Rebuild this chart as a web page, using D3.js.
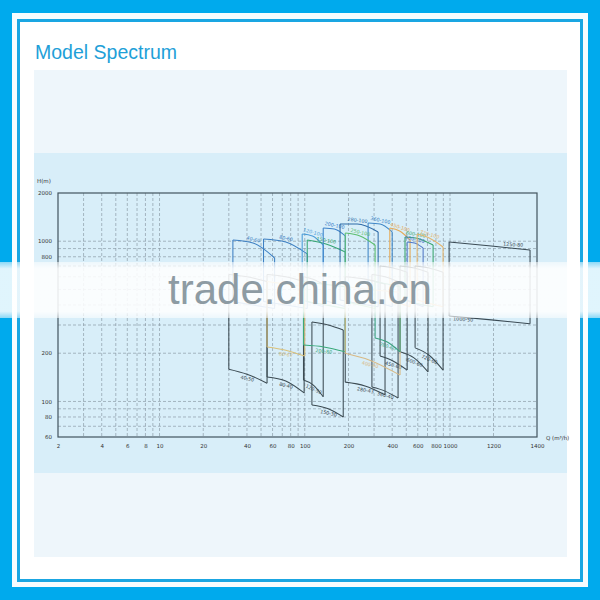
<!DOCTYPE html>
<html><head><meta charset="utf-8">
<script src="https://cdn.jsdelivr.net/npm/d3@7"></script>
<style>body{margin:0;background:#00aaed;}svg{display:block;}</style>
</head><body>
<svg id="c" width="600" height="600"></svg>
<script>
// ---------- data ----------
const xTicks = [2,4,6,8,10,20,40,60,80,100,200,400,600,800,1000,1200,1400];
const xGrid = [3,4,5,6,7,8,9,10,20,30,40,50,60,70,80,90,100,200,300,400,500,600,700,800,900,1000,1200];
const yTicks = [60,80,100,200,800,1000,2000];
const yGrid = [70,80,90,100,200,300,400,500,600,700,800,900,1000];

const tileNames = ["40-60","80-60","120-100","150-100","200-100","280-100","360-100","250-100","450-100","600-100","650-100","720-100",
  "40-50","80-40","120-50","150-30","280-43","360-40","450-60","600-60","720-60",
  "80-67","200-80","400-60","280-60","1250-80"];
const tileQ = [[32,44,62],[52,74,104],[96,113,134],[104,140,190],[134,160,190],[175,230,320],[273,330,400],[190,240,305],[385,450,531],[490,580,765],[507,570,653],[594,720,896],
  [30,40,55],[55,74,99],[98,114,134],[112,145,184],[190,260,357],[290,357,439],[330,405,507],[453,565,706],[575,715,896],
  [55,74,100],[98,135,190],[190,280,453],[305,370,453],[986,1190,1368]];
const tileTop = [[1019,976,786],[1033,990,833],[1110,1079,947],[1019,961,857],[1210,1193,1079],[1282,1282,1143],[1300,1282,1143],[1126,1079,947],[1210,1159,1019],[1063,1048,947],[990,976,908],[1110,1048,921],
  [620,600,560],[620,600,560],[600,580,540],[313,300,279],[600,580,540],[620,600,560],[700,680,640],[700,680,640],[700,680,640],
  [560,540,520],[560,540,520],[520,500,480],[560,540,520],[990,934,882]];
const tileBot = [[420,400,380],[420,400,380],[430,410,390],[420,400,380],[430,410,390],[430,410,390],[430,410,390],[420,400,380],[430,410,390],[430,410,390],[430,410,390],[430,410,390],
  [159,148,130],[142,134,113],[136,127,107],[95,90,80],[132,125,110],[123,116,105],[192,179,157],[204,187,153],[216,195,157],
  [219,209,192],[225,219,204],[200,181,146],[249,235,204],[341,323,305]];
const tileLabelSide = ["top","top","top","top","top","top","top","top","top","top","top","top",
  "bot","bot","bot","bot","bot","bot","bot","bot","bot",
  "bot","bot","bot","bot","top"];
const bigTileBottomLabel = "1000-50";

// ---------- styles ----------
const tileColors = ["#3d7fc2","#3d7fc2","#4a9bd8","#34a573","#3c80c8","#2d6aa8","#3f86c6","#5cbf6e","#e5a955","#39a46c","#5078c6","#e4b46c",
  "#3c4b53","#3c4b53","#3c4b53","#3c4b53","#3c4b53","#3c4b53","#3c4b53","#3c4b53","#3c4b53",
  "#d9c07a","#3aa97a","#d8b985","#3aa07e","#3a4a54"];

const svg = d3.select("#c");
// frame
svg.append("rect").attr("x",12).attr("y",13).attr("width",576).attr("height",574).attr("fill","#f7fcfe");
svg.append("rect").attr("x",18.5).attr("y",20.5).attr("width",563).attr("height",560).attr("fill","#ffffff").attr("stroke","#1aa6e2").attr("stroke-width",3);
svg.append("rect").attr("x",34).attr("y",70).attr("width",533).attr("height",487).attr("fill","#eef6fb");
svg.append("rect").attr("x",34).attr("y",153).attr("width",533).attr("height",320).attr("fill","#d8eef9");
svg.append("text").attr("x",35).attr("y",59).text("Model Spectrum")
  .attr("font-family","Liberation Sans, Arial, sans-serif").attr("font-size",19.5).attr("fill","#1ea0d8");

// scales
const xLog = d3.scaleLog().domain([2,1000]).range([58,450]);
const xLin = d3.scaleLinear().domain([1000,1400]).range([450,537]);
const x = q => q <= 1000 ? xLog(q) : xLin(q);
const y = d3.scaleLog().domain([60,2000]).range([437,193]);

const g = svg.append("g");
// grid
g.selectAll(".vg").data(xGrid).join("line")
  .attr("x1",d=>x(d)).attr("x2",d=>x(d)).attr("y1",193).attr("y2",437)
  .attr("stroke","#8c9ca8").attr("stroke-width",0.7).attr("stroke-dasharray","3,2");
g.selectAll(".hg").data(yGrid).join("line")
  .attr("x1",58).attr("x2",537).attr("y1",d=>y(d)).attr("y2",d=>y(d))
  .attr("stroke","#8c9ca8").attr("stroke-width",0.7).attr("stroke-dasharray","3,2");
// plot frame
g.append("rect").attr("x",58).attr("y",193).attr("width",479).attr("height",244)
  .attr("fill","none").attr("stroke","#42545e").attr("stroke-width",1.2);

// axes labels
const axFont = "DejaVu Sans, sans-serif";
const xa1 = d3.axisBottom(xLog).tickValues(xTicks.filter(d=>d<=1000)).tickSize(0).tickFormat(d3.format("d"));
const xa2 = d3.axisBottom(xLin).tickValues(xTicks.filter(d=>d>1000)).tickSize(0).tickFormat(d3.format("d"));
[xa1,xa2].forEach(a=>{
  const ag = g.append("g").attr("transform","translate(0,441)").call(a);
  ag.select(".domain").remove();
  ag.selectAll("text").attr("font-size",5.5).attr("font-family",axFont).attr("fill","#333");
});
const ya = d3.axisLeft(y).tickValues(yTicks).tickSize(0).tickFormat(d3.format("d"));
const yag = g.append("g").attr("transform","translate(55,0)").call(ya);
yag.select(".domain").remove();
yag.selectAll("text").attr("font-size",5.5).attr("font-family",axFont).attr("fill","#333");
g.append("text").attr("x",37).attr("y",183).text("H(m)").attr("font-size",5.5).attr("font-family",axFont).attr("fill","#333");
g.append("text").attr("x",546).attr("y",440).text("Q (m³/h)").attr("font-size",5.5).attr("font-family",axFont).attr("fill","#333");

// tiles
const curve = d3.line().x(d=>x(d[0])).y(d=>y(d[1])).curve(d3.curveMonotoneX);
const tiles = tileNames.map((n,i)=>({n, q:tileQ[i], t:tileTop[i], b:tileBot[i], side:tileLabelSide[i], c:tileColors[i]}));
const tg = g.append("g");
tiles.forEach(d=>{
  const top = d.q.map((q,k)=>[q,d.t[k]]);
  const bot = d.q.map((q,k)=>[q,d.b[k]]);
  const gg = tg.append("g").attr("stroke",d.c).attr("fill","none").attr("stroke-width",1.05);
  gg.append("path").attr("d",curve(top));
  gg.append("path").attr("d",curve(bot));
  gg.append("line").attr("x1",x(d.q[0])).attr("x2",x(d.q[0])).attr("y1",y(d.t[0])).attr("y2",y(d.b[0]));
  gg.append("line").attr("x1",x(d.q[2])).attr("x2",x(d.q[2])).attr("y1",y(d.t[2])).attr("y2",y(d.b[2]));
  const arr = d.side==="top" ? d.t : d.b;
  const x0=x(d.q[0]), x2=x(d.q[2]), y0=y(arr[0]), y2=y(arr[2]);
  const ang = Math.atan2(y2-y0,x2-x0)*180/Math.PI;
  const lx = d.n==="1250-80" ? x(1290) : x(d.q[1]);
  const ly = d.n==="1250-80" ? y(905) : y(arr[1]);
  tg.append("text").attr("transform",`translate(${lx},${ly + (d.side==="top"?-2:6)}) rotate(${ang*0.6})`)
    .attr("text-anchor","middle").attr("font-size",4.8).attr("font-family",axFont).attr("fill",d.c).text(d.n);
});
// big tile bottom label
tg.append("text").attr("transform",`translate(${x(1060)},${y(318)}) rotate(4)`).attr("text-anchor","middle")
  .attr("font-size",4.8).attr("font-family",axFont).attr("fill","#3a4a54").text(bigTileBottomLabel);

// watermark band
const defs = svg.append("defs");
const lg = defs.append("linearGradient").attr("id","wm").attr("x1",0).attr("x2",0).attr("y1",0).attr("y2",1);
lg.append("stop").attr("offset","0%").attr("stop-color","#fff").attr("stop-opacity",0.55);
lg.append("stop").attr("offset","12%").attr("stop-color","#fff").attr("stop-opacity",0.88);
lg.append("stop").attr("offset","88%").attr("stop-color","#fff").attr("stop-opacity",0.88);
lg.append("stop").attr("offset","100%").attr("stop-color","#fff").attr("stop-opacity",0.55);
svg.append("rect").attr("x",0).attr("y",262).attr("width",600).attr("height",56).attr("fill","url(#wm)");
svg.append("text").attr("x",300).attr("y",304).attr("text-anchor","middle").text("trade.china.cn")
  .attr("font-family","Liberation Sans, Arial, sans-serif").attr("font-size",42).attr("fill","#8d9ba3");
</script>
</body></html>
